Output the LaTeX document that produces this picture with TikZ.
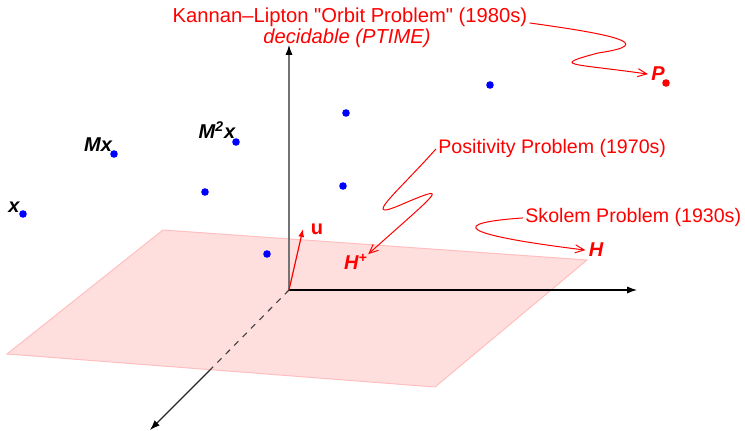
\documentclass[tikz,border=0pt]{standalone}
\usepackage{fontspec}
\setmainfont{Liberation Sans}[Ligatures=TeXOff]
\usetikzlibrary{arrows.meta}

\begin{document}
\begin{tikzpicture}[
  x=0.5pt, y=-0.5pt,
  font=\fontsize{9.8}{11.5}\selectfont,
  plane/.style={fill=red!13, draw=red!25, line width=0.5pt},
  axis/.style={line width=0.55pt, -{Latex[length=5pt,width=3.6pt,color=black]}},
  dot/.style={circle, fill=blue, inner sep=0pt, minimum size=3.8pt},
  pt/.style={font=\fontsize{10}{12}\selectfont\bfseries\itshape, inner sep=0pt, anchor=base},
  note/.style={text=red, inner sep=1pt, anchor=base},
  wiggle/.style={draw=red, line width=0.5pt, -{Straight Barb[length=4.5pt,width=4pt]}}
]
\useasboundingbox (0,0) rectangle (745,431);

% the plane H
\path[plane] (163,230) -- (587,260) -- (435,387) -- (7,354) -- cycle;

% axes
\coordinate (O) at (289,290);
\coordinate (ztop) at (289,45);
\coordinate (xend) at (637,290);
\coordinate (ycut) at (210,370);
\coordinate (yend) at (150,430);
\draw[axis, draw=black!55] (O) -- (ztop);
\draw[axis] (O) -- (xend);
\draw[black!75, line width=0.55pt, dash pattern=on 3pt off 3pt] (O) -- (ycut);
\draw[axis, draw=black!85] (ycut) -- (yend);

% normal vector
\coordinate (utip) at (303,229);
\draw[red, line width=0.6pt, -{Latex[length=4pt,width=3pt]}] (O) -- (utip);
\node[pt, font=\fontsize{10}{12}\selectfont\bfseries, text=red] (u) at (317,235) {u};

% orbit points
\node[dot] (d0) at (23,214) {};
\node[dot] (d1) at (114,154) {};
\node[dot] (d2) at (236,142) {};
\node[dot] (d3) at (205,192) {};
\node[dot] (d4) at (267,254) {};
\node[dot] (d5) at (343,186) {};
\node[dot] (d6) at (346,113) {};
\node[dot] (d7) at (490,85) {};
\node[dot, fill=red] (dP) at (666,83) {};

\node[pt] (lx) at (14,213) {x};
\node[pt] (lMx) at (98,152) {Mx};
\node[pt] (lM2x) at (217,139) {M\textsuperscript{2}x};
\node[pt, text=red] (P) at (658,81) {P};
\node[pt, text=red] (H) at (596,257) {H};
\node[pt, text=red] (Hp) at (356,270) {H\textsuperscript{+}};

% problems
\node[note, font=\fontsize{10.1}{12}\selectfont] (orbit) at (350,23) {Kannan–Lipton "Orbit Problem" (1980s)};
\node[note, font=\fontsize{10.1}{12}\selectfont\itshape] (dec) at (347,44) {decidable (PTIME)};
\node[note, anchor=base west] (pos) at (436,154) {Positivity Problem (1970s)};
\node[note, anchor=base west] (sk) at (523,223) {Skolem Problem (1930s)};

\draw[wiggle] (orbit.base east) .. controls (610,34) and (660,44) .. (598,53)
  .. controls (550,66) and (570,63) .. ([xshift=-1.5pt]P.west);
\draw[wiggle] (pos.west) .. controls (395,195) and (358,224) .. (405,203)
  .. controls (450,184) and (440,190) .. (Hp.north east);
\draw[wiggle] (sk.west) .. controls (450,223) and (455,234) .. ([xshift=-1.5pt]H.west);
\end{tikzpicture}
\end{document}
